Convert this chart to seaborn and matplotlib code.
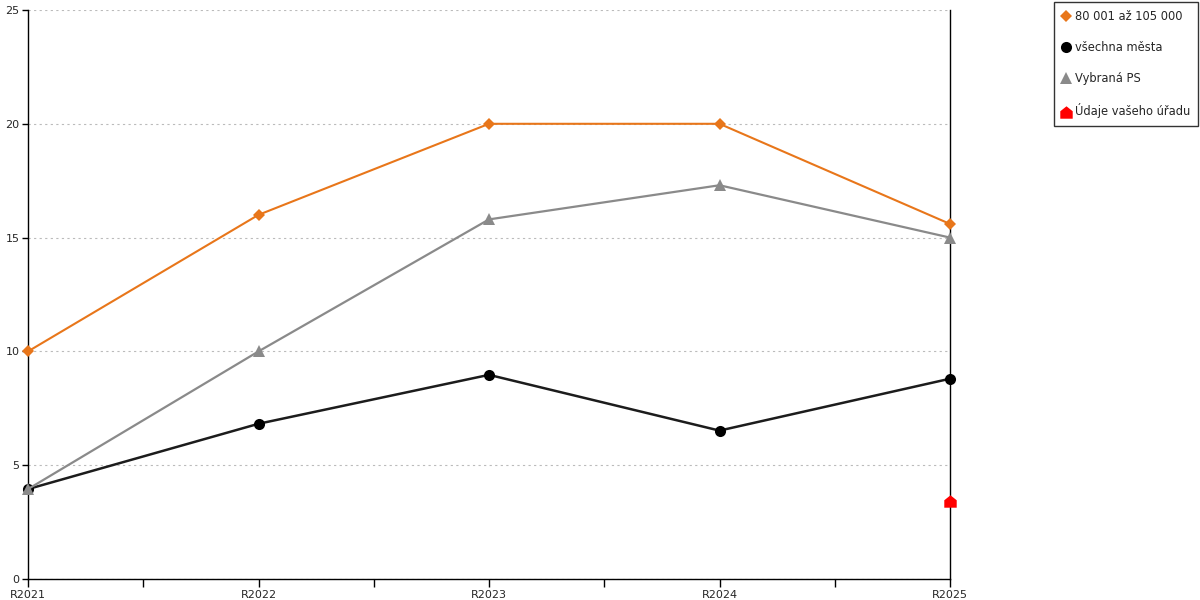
import seaborn as sns
import matplotlib.pyplot as plt
from matplotlib.ticker import MultipleLocator
import pandas as pd
import numpy as np

years = ['R2021', 'R2022', 'R2023', 'R2024', 'R2025']
orange_vals = [10.0, 16.0, 20.0, 20.0, 15.6]
black_vals = [3.95, 6.82, 8.97, 6.52, 8.8]
gray_vals = [3.95, 10.0, 15.8, 17.3, 15.0]
red_vals = [np.nan, np.nan, np.nan, np.nan, 3.43]

names = ['80 001 až 105 000', 'všechna města', 'Vybraná PS', 'Údaje vašeho úřadu']

# house-shaped marker for the office's own value
house = [(-1, -1), (1, -1), (1, 0.2), (0, 1), (-1, 0.2), (-1, -1)]

sns.set_style('white')
plt.rcParams['font.family'] = ['DejaVu Sans']

fig = plt.figure(figsize=(12, 6), dpi=100)
ax = fig.add_axes([28 / 1200, 1 - 579 / 600, (950 - 28) / 1200, (579 - 10) / 600])

pos = list(range(len(years)))
df = pd.DataFrame({'pos': pos, 'o': orange_vals, 'b': black_vals,
                   'g': gray_vals, 'r': red_vals})

sns.lineplot(data=df, x='pos', y='o', ax=ax, color='#E8761A', lw=1.5,
             marker='D', markersize=6, markeredgewidth=0, label=names[0],
             zorder=5, clip_on=False)
sns.lineplot(data=df, x='pos', y='b', ax=ax, color='#1c1c1c', lw=1.8,
             marker='o', markersize=8, markeredgewidth=0, markerfacecolor='black',
             label=names[1], zorder=3, clip_on=False)
sns.lineplot(data=df, x='pos', y='g', ax=ax, color='#8a8a8a', lw=1.6,
             marker='^', markersize=9, markeredgewidth=0, label=names[2],
             zorder=4, clip_on=False)
sns.scatterplot(data=df, x='pos', y='r', ax=ax, color='#ff0000', marker=house,
                s=80, linewidth=0, label=names[3], zorder=6, clip_on=False)

ax.set_xlim(0, 4)
ax.set_ylim(0, 25)
ax.set_xticks(pos)
ax.set_xticklabels(years)
ax.xaxis.set_minor_locator(MultipleLocator(0.5))
ax.yaxis.set_major_locator(MultipleLocator(5))
ax.set_xlabel('')
ax.set_ylabel('')

ax.yaxis.grid(True, ls=(0, (2, 3)), color='#bbbbbb', lw=0.8)
ax.xaxis.grid(False)
ax.set_axisbelow(True)

for s in ['left', 'bottom', 'right']:
    ax.spines[s].set_visible(True)
    ax.spines[s].set_color('black')
    ax.spines[s].set_linewidth(1)
ax.spines['top'].set_visible(False)

ax.tick_params(axis='x', which='both', direction='out', length=6, width=1,
               color='black', labelsize=8, pad=2, bottom=True)
ax.tick_params(axis='y', direction='out', length=4, width=1, color='black',
               labelsize=8, pad=2, left=True)

handles, labels = ax.get_legend_handles_labels()
ax.get_legend().remove()
leg = fig.legend(handles, labels, loc='upper left',
                 bbox_to_anchor=(1054 / 1200, 1 - 2 / 600), frameon=True,
                 fancybox=False, edgecolor='black', fontsize=8.3,
                 handlelength=0.6, handletextpad=0.5, labelspacing=1.55,
                 borderpad=0.7, borderaxespad=0)
leg.get_frame().set_linewidth(1)
for h in leg.legend_handles:
    try:
        h.set_linestyle('none')
    except Exception:
        pass

fig.savefig('out.png', dpi=100)
